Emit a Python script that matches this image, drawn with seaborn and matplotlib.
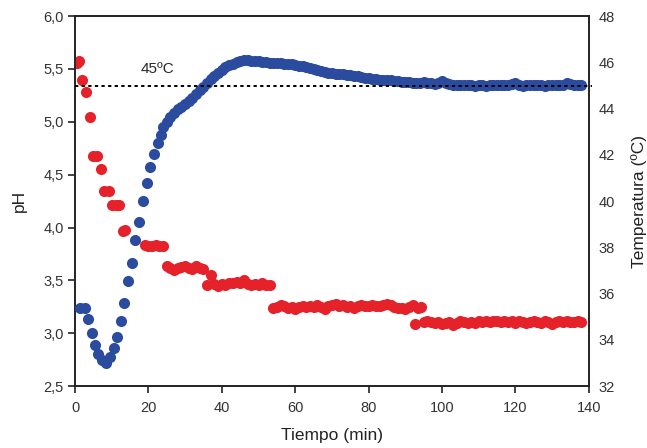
import matplotlib
matplotlib.use("Agg")
import matplotlib.pyplot as plt
import seaborn as sns

# pH (rojo), eje izquierdo
red_t_early = [0.5, 1.2, 2.0, 3.0, 4.1, 5.0, 6.0, 7.1, 8.0, 9.2, 10.2, 11.1, 12.0, 13.1, 13.7]
red_ph_early = [5.56, 5.58, 5.40, 5.28, 5.05, 4.68, 4.68, 4.55, 4.35, 4.35, 4.21, 4.21, 4.21, 3.97, 3.98]

red_ph_mid = [3.84, 3.83, 3.83, 3.84, 3.83, 3.83,
              3.64, 3.62, 3.60, 3.62, 3.63, 3.64, 3.62, 3.61, 3.64, 3.62, 3.61,
              3.46, 3.55, 3.47, 3.45, 3.47, 3.46, 3.48, 3.48, 3.49, 3.48, 3.50, 3.47,
              3.46, 3.47, 3.46, 3.48, 3.46, 3.46,
              3.24, 3.25, 3.27, 3.26, 3.24, 3.25, 3.23, 3.25, 3.26, 3.25, 3.26, 3.25,
              3.27, 3.25, 3.23, 3.26, 3.27, 3.28, 3.26, 3.27, 3.25, 3.26, 3.24, 3.26,
              3.27, 3.26, 3.26, 3.27, 3.26, 3.26, 3.27, 3.28, 3.27, 3.25, 3.24, 3.24,
              3.23, 3.25, 3.27]
red_t_jump = [92.6, 93.5, 94.4]
red_ph_jump = [3.09, 3.24, 3.25]
red_ph_late = [3.11, 3.12, 3.11, 3.10, 3.11, 3.09, 3.10, 3.11, 3.08, 3.10,
               3.12, 3.11, 3.10, 3.11, 3.10, 3.12, 3.11, 3.12, 3.11, 3.12,
               3.12, 3.11, 3.12, 3.11, 3.12, 3.10, 3.12, 3.11, 3.10, 3.11,
               3.12, 3.11, 3.10, 3.12, 3.11, 3.09, 3.11, 3.12, 3.11, 3.12,
               3.11, 3.11, 3.12, 3.11]

# Temperatura (azul), eje derecho
blue_t_early = [1.4, 2.6, 3.6, 4.5, 5.4, 6.3, 7.3, 8.4, 9.5, 10.5, 11.3, 12.4, 13.3, 14.5,
                15.5, 16.3, 17.5, 18.6, 19.5, 20.4, 21.5, 22.5, 23.3, 24.1]
blue_temp_early = [35.36, 35.40, 34.90, 34.28, 33.77, 33.41, 33.12, 33.00, 33.24, 33.67,
                   34.13, 34.82, 35.58, 36.54, 37.33, 38.31, 39.10, 40.00, 40.77, 41.46,
                   42.02, 42.50, 42.85, 43.19]
blue_temp_late = [43.43, 43.62, 43.83, 43.98, 44.08, 44.20, 44.33, 44.47, 44.62, 44.80,
                  44.95, 45.10, 45.26, 45.42, 45.55, 45.66, 45.78, 45.88, 45.95, 46.02,
                  46.07, 46.10, 46.10, 46.08, 46.07, 46.04, 46.02, 46.00, 45.99, 45.97,
                  45.96, 45.96, 45.95, 45.93, 45.92, 45.90, 45.86, 45.83, 45.78, 45.74,
                  45.70, 45.66, 45.62, 45.58, 45.56, 45.53, 45.50, 45.49, 45.48, 45.46,
                  45.45, 45.42, 45.39, 45.37, 45.34, 45.31, 45.29, 45.27, 45.25, 45.24,
                  45.23, 45.22, 45.20, 45.19, 45.17, 45.16, 45.15, 45.13, 45.12, 45.12,
                  45.15, 45.12, 45.10, 45.08, 45.12, 45.20, 45.10, 45.05, 45.03, 45.02,
                  45.02, 45.03, 45.01, 45.02, 45.00, 45.02, 45.03, 44.96, 45.02, 45.01,
                  45.02, 45.03, 45.01, 45.02, 45.05, 45.10, 45.02, 44.99, 45.01, 45.02,
                  45.01, 45.03, 45.02, 45.00, 45.01, 45.02, 45.03, 45.01, 45.02, 45.10,
                  45.06, 45.02, 45.01, 45.02]

red_t = red_t_early + list(range(19, 93)) + red_t_jump + list(range(95, 139))
red_ph = red_ph_early + red_ph_mid + red_ph_jump + red_ph_late
blue_t = blue_t_early + list(range(25, 139))
blue_temp = blue_temp_early + blue_temp_late
assert len(red_t) == len(red_ph) and len(blue_t) == len(blue_temp)

ph_ticks = [2.5, 3.0, 3.5, 4.0, 4.5, 5.0, 5.5, 6.0]
temp_ticks = [32, 34, 36, 38, 40, 42, 44, 46, 48]
x_ticks = [0, 20, 40, 60, 80, 100, 120, 140]

red = '#e5222a'
blue = '#2b4c9e'

sns.set_style("ticks")
plt.rcParams['font.family'] = ['Liberation Sans', 'DejaVu Sans']

fig = plt.figure(figsize=(6.47, 4.48), dpi=100)
ax = fig.add_axes([0.116, 0.138, 0.794, 0.826])
ax2 = ax.twinx()

sns.scatterplot(x=red_t, y=red_ph, ax=ax, color=red, s=64, linewidth=0, zorder=3)
sns.scatterplot(x=blue_t, y=blue_temp, ax=ax2, color=blue, s=64, linewidth=0, zorder=3)

# linea de 45 ºC
ax2.plot([0, 140.8], [45, 45], color='black', lw=1.4, linestyle=(0, (1.7, 1.7)),
         zorder=5, clip_on=False)
ax2.text(22.6, 45.7, "45ºC", ha='center', va='center', fontsize=11)

ax.set_xlim(0, 140)
ax.set_ylim(2.5, 6.0)
ax2.set_ylim(32, 48)
ax.set_xticks(x_ticks)
ax.set_xticklabels([str(v) for v in x_ticks])
ax.set_yticks(ph_ticks)
ax.set_yticklabels([f"{v:.1f}".replace('.', ',') for v in ph_ticks])
ax2.set_yticks(temp_ticks)
ax2.set_yticklabels([str(v) for v in temp_ticks])

ax.tick_params(axis='both', labelsize=10.5, length=5, width=1.2, color='#222222',
               labelcolor='#333333')
ax.tick_params(axis='x', pad=6)
ax.tick_params(axis='y', pad=3)
ax2.tick_params(axis='y', labelsize=10.5, length=0, pad=7, labelcolor='#333333')

for a in (ax, ax2):
    for sp in a.spines.values():
        sp.set_visible(True)
        sp.set_linewidth(1.2)
        sp.set_color('#222222')

ax.set_xlabel("Tiempo (min)", fontsize=12.5, labelpad=9, color='#222222')
ax.set_ylabel("pH", fontsize=12.5, labelpad=12, color='#222222')
ax2.set_ylabel("Temperatura (ºC)", fontsize=12.5, labelpad=12, color='#222222')

fig.savefig("out.png", dpi=100)
